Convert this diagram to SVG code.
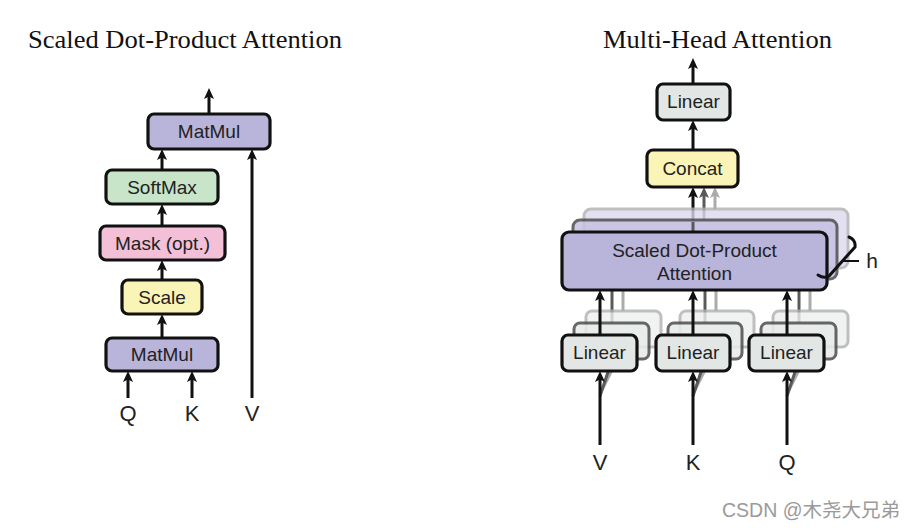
<svg xmlns="http://www.w3.org/2000/svg" width="916" height="528" viewBox="0 0 916 528">
<style>
.title{font-family:"Liberation Serif","Times New Roman",serif;font-size:25.5px;fill:#111;text-anchor:middle}
.lbl{font-family:"Liberation Sans",Arial,sans-serif;font-size:19px;fill:#222;text-anchor:middle}
.io{font-family:"Liberation Sans",Arial,sans-serif;font-size:22px;fill:#222;text-anchor:middle}
.box{stroke:#111;stroke-width:3.2}
.purple{fill:#b9b4d9}
.green{fill:#c8e5ca}
.pink{fill:#f3c0d7}
.yellow{fill:#fbf4b7}
.grey{fill:#e2e7e5}
.l2{stroke:#4d4d4d;stroke-width:3;opacity:0.85}
.l3{stroke:#b0b0b0;stroke-width:3;opacity:0.8}
.a{stroke:#111;stroke-width:3;fill:none}
.a2{stroke:#5a5a5a;stroke-width:3;fill:none}
.a3{stroke:#ababab;stroke-width:3;fill:none}
</style>
<defs>
<marker id="ah" markerUnits="userSpaceOnUse" markerWidth="12" markerHeight="10" refX="3" refY="5" orient="auto" overflow="visible">
<path d="M0,0 L11,5 L0,10 L2.5,5 z" fill="#111"/>
</marker>
<marker id="ah2" markerUnits="userSpaceOnUse" markerWidth="12" markerHeight="10" refX="3" refY="5" orient="auto" overflow="visible">
<path d="M0,0 L11,5 L0,10 L2.5,5 z" fill="#5a5a5a"/>
</marker>
<marker id="ah3" markerUnits="userSpaceOnUse" markerWidth="12" markerHeight="10" refX="3" refY="5" orient="auto" overflow="visible">
<path d="M0,0 L11,5 L0,10 L2.5,5 z" fill="#ababab"/>
</marker>
<filter id="soft" x="-10%" y="-20%" width="120%" height="140%">
<feGaussianBlur stdDeviation="0.7"/>
</filter>
</defs>

<rect width="916" height="528" fill="#ffffff"/>

<text class="title" x="185" y="48" textLength="314" lengthAdjust="spacingAndGlyphs">Scaled Dot-Product Attention</text>
<text class="title" x="717.5" y="48" textLength="229" lengthAdjust="spacingAndGlyphs">Multi-Head Attention</text>

<!-- Left diagram connectors -->
<g id="connectors-left">
<line class="a" x1="209" y1="114" x2="209" y2="96" marker-end="url(#ah)"/>
<line class="a" x1="162" y1="170" x2="162" y2="157" marker-end="url(#ah)"/>
<line class="a" x1="162" y1="226" x2="162" y2="212" marker-end="url(#ah)"/>
<line class="a" x1="162" y1="280" x2="162" y2="268" marker-end="url(#ah)"/>
<line class="a" x1="162" y1="338" x2="162" y2="322" marker-end="url(#ah)"/>
<line class="a" x1="128" y1="398" x2="128" y2="379" marker-end="url(#ah)"/>
<line class="a" x1="192" y1="398" x2="192" y2="379" marker-end="url(#ah)"/>
<line class="a" x1="252" y1="398" x2="252" y2="157" marker-end="url(#ah)"/>
</g>

<g id="matmul-top">
<rect class="box purple" x="148" y="114" width="122" height="35" rx="6"/>
<text class="lbl" x="209" y="138">MatMul</text>
</g>
<g id="softmax">
<rect class="box green" x="106" y="170" width="112" height="34" rx="6"/>
<text class="lbl" x="162" y="194">SoftMax</text>
</g>
<g id="mask">
<rect class="box pink" x="100" y="226" width="125" height="34" rx="6"/>
<text class="lbl" x="162.5" y="250">Mask (opt.)</text>
</g>
<g id="scale">
<rect class="box yellow" x="122" y="280" width="80" height="34" rx="6"/>
<text class="lbl" x="162" y="304">Scale</text>
</g>
<g id="matmul-bottom">
<rect class="box purple" x="106" y="338" width="112" height="33" rx="6"/>
<text class="lbl" x="162" y="361">MatMul</text>
</g>
<g id="left-inputs">
<text class="io" x="128" y="421">Q</text>
<text class="io" x="192" y="421">K</text>
<text class="io" x="252" y="421">V</text>
</g>

<!-- Right diagram connectors (behind nodes) -->
<g id="connectors-right">
<line class="a" x1="693" y1="84" x2="693" y2="66" marker-end="url(#ah)"/>
<line class="a" x1="693" y1="150" x2="693" y2="128" marker-end="url(#ah)"/>
<line class="a3" x1="715" y1="209" x2="715" y2="195" marker-end="url(#ah3)"/>
<line class="a2" x1="704" y1="220" x2="704" y2="195" marker-end="url(#ah2)"/>
<line class="a" x1="693" y1="232" x2="693" y2="195" marker-end="url(#ah)"/>
<!-- shadow links from back linear layers to attention -->
<line class="a3" x1="623" y1="311" x2="623" y2="285"/>
<line class="a2" x1="612" y1="323" x2="612" y2="285"/>
<line class="a3" x1="716" y1="311" x2="716" y2="285"/>
<line class="a2" x1="705" y1="323" x2="705" y2="285"/>
<line class="a3" x1="810" y1="311" x2="810" y2="285"/>
<line class="a2" x1="799" y1="323" x2="799" y2="285"/>
<!-- shadow input links -->
<line class="a3" x1="600" y1="394" x2="623" y2="348" stroke-width="2"/>
<line class="a2" x1="600" y1="396" x2="612" y2="360" stroke-width="2.5"/>
<line class="a3" x1="693" y1="394" x2="716" y2="348" stroke-width="2"/>
<line class="a2" x1="693" y1="396" x2="705" y2="360" stroke-width="2.5"/>
<line class="a3" x1="787" y1="394" x2="810" y2="348" stroke-width="2"/>
<line class="a2" x1="787" y1="396" x2="799" y2="360" stroke-width="2.5"/>
</g>

<g id="linear-top">
<rect class="box grey" x="657" y="84" width="73" height="36" rx="6"/>
<text class="lbl" x="693.5" y="108">Linear</text>
</g>
<g id="concat">
<rect class="box yellow" x="647" y="150" width="91" height="37" rx="6"/>
<text class="lbl" x="692.5" y="175">Concat</text>
</g>

<g id="attention">
<rect class="l3" x="584" y="209" width="264" height="59" rx="7" fill="#dcd9ee" filter="url(#soft)"/>
<rect class="l2" x="573" y="220" width="264" height="59" rx="7" fill="#c6c1e2" filter="url(#soft)"/>
<line class="a2" x1="693" y1="232" x2="693" y2="222"/>
<rect class="box purple" x="562" y="232" width="265" height="58" rx="7"/>
<text class="lbl" x="694.5" y="257">Scaled Dot-Product</text>
<text class="lbl" x="694.5" y="280">Attention</text>
</g>

<g id="heads-brace">
<path d="M849,237 Q856,240 855,247 L829,276 Q824,279 818,275" fill="none" stroke="#111" stroke-width="3" stroke-linecap="round"/>
<line x1="843" y1="261" x2="859" y2="261" stroke="#111" stroke-width="2"/>
<text class="lbl" x="872" y="268" style="font-size:21px">h</text>
</g>

<g id="linear-v">
<rect class="l3" x="586" y="311" width="75" height="36" rx="6" fill="#eef1f0" filter="url(#soft)"/>
<rect class="l2" x="574" y="323" width="75" height="36" rx="6" fill="#e7ebea" filter="url(#soft)"/>
<rect class="box grey" x="562" y="335" width="75" height="36" rx="6"/>
<text class="lbl" x="599.5" y="359">Linear</text>
</g>
<g id="linear-k">
<rect class="l3" x="680" y="311" width="74" height="36" rx="6" fill="#eef1f0" filter="url(#soft)"/>
<rect class="l2" x="668" y="323" width="74" height="36" rx="6" fill="#e7ebea" filter="url(#soft)"/>
<rect class="box grey" x="656" y="335" width="74" height="36" rx="6"/>
<text class="lbl" x="693" y="359">Linear</text>
</g>
<g id="linear-q">
<rect class="l3" x="773" y="311" width="75" height="36" rx="6" fill="#eef1f0" filter="url(#soft)"/>
<rect class="l2" x="761" y="323" width="75" height="36" rx="6" fill="#e7ebea" filter="url(#soft)"/>
<rect class="box grey" x="749" y="335" width="75" height="36" rx="6"/>
<text class="lbl" x="786.5" y="359">Linear</text>
</g>

<g id="connectors-right-front">
<line class="a" x1="600" y1="335" x2="600" y2="298" marker-end="url(#ah)"/>
<line class="a" x1="693" y1="335" x2="693" y2="298" marker-end="url(#ah)"/>
<line class="a" x1="787" y1="335" x2="787" y2="298" marker-end="url(#ah)"/>
<line class="a" x1="600" y1="445" x2="600" y2="379" marker-end="url(#ah)"/>
<line class="a" x1="693" y1="445" x2="693" y2="379" marker-end="url(#ah)"/>
<line class="a" x1="787" y1="445" x2="787" y2="379" marker-end="url(#ah)"/>
</g>

<g id="right-inputs">
<text class="io" x="600" y="470">V</text>
<text class="io" x="693" y="470">K</text>
<text class="io" x="787" y="470">Q</text>
</g>

<text x="811" y="517" text-anchor="middle" style="font-family:'Liberation Sans','Noto Sans CJK SC',sans-serif;font-size:19.5px;fill:#9a9a9a">CSDN @木尧大兄弟</text>
</svg>
